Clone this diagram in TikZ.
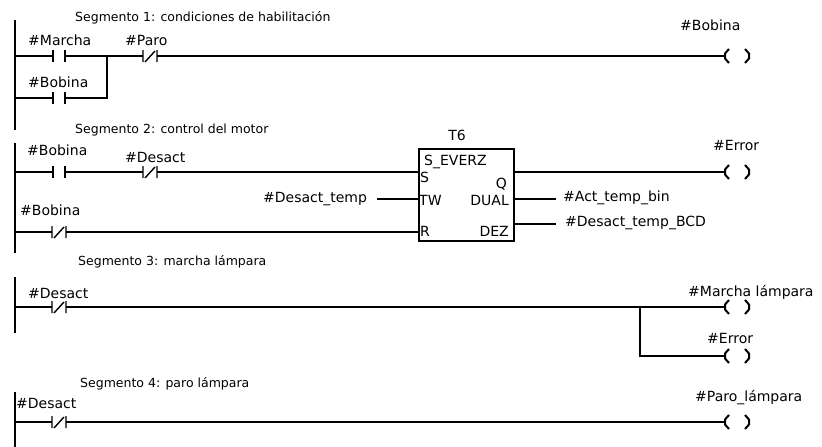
\documentclass[tikz,border=0pt]{standalone}
\usepackage{fontspec}
\setmainfont{DejaVu Sans}
\tikzset{
  wire/.style={line width=1.4pt},
  rail/.style={line width=1.6pt},
  lbl/.style={anchor=west,inner sep=0pt,font=\fontsize{14}{16}\selectfont},
  ttl/.style={anchor=west,inner sep=0pt,font=\fontsize{12.5}{15}\selectfont},
  pin/.style={inner sep=0pt,font=\fontsize{14}{16}\selectfont},
  fblock/.style={draw,line width=2.4pt,anchor=north west,inner sep=0pt,minimum width=95pt,minimum height=92pt},
  nocontact/.pic={\draw[wire] (-6,-6) -- (-6,6) (6,-6) -- (6,6);
    \coordinate (-l) at (-6,0); \coordinate (-r) at (6,0);},
  nccontact/.pic={\draw[wire] (-7,-6) -- (-7,6) (7,-6) -- (7,6) (-5,6) -- (5,-5);
    \coordinate (-l) at (-7,0); \coordinate (-r) at (7,0);},
  coil/.pic={\draw[line width=2pt,line join=miter] (-8,-7) -- (-12,-2.5) -- (-12,2.5) -- (-8,7)
      (8,-7) -- (12,-2.5) -- (12,2.5) -- (8,7);
    \coordinate (-l) at (-12,0);}
}
\begin{document}
\begin{tikzpicture}[x=1pt,y=-1pt]
\useasboundingbox (0,0) rectangle (822,447);

% ---------------- Segment 1 ----------------
\coordinate (r1t) at (15,20);
\coordinate (r1b) at (15,130);
\draw[rail] (r1t) -- (r1b);
\node[ttl] (t1) at (75,18) {Segmento 1: condiciones de habilitación};
\pic (c1) at (59,56) {nocontact};
\pic (c2) at (59,98) {nocontact};
\pic (c3) at (150,56) {nccontact};
\pic (k1) at (737,56) {coil};
\coordinate (j1) at (107,56);
\coordinate (j1b) at (107,98);
\draw[wire] (r1t |- c1-l) -- (c1-l);
\draw[wire] (c1-r) -- (j1) -- (c3-l);
\draw[wire] (r1t |- c2-l) -- (c2-l);
\draw[wire] (c2-r) -- (j1b) -- (j1);
\draw[wire] (c3-r) -- (k1-l);
\node[lbl] (l1) at (28,40) {\#Marcha};
\node[lbl] (l2) at (125,40) {\#Paro};
\node[lbl] (l3) at (28,82) {\#Bobina};
\node[lbl] (l4) at (680,25) {\#Bobina};

% ---------------- Segment 2 ----------------
\coordinate (r2t) at (15,143);
\coordinate (r2b) at (15,253);
\draw[rail] (r2t) -- (r2b);
\node[ttl] (t2) at (75,130) {Segmento 2: control del motor};
\node[fblock] (T6) at (418,148) {};
\node[pin,anchor=south] (t6n) at (457,141) {T6};
\pic (c4) at (59,172) {nocontact};
\pic (c5) at (150,172) {nccontact};
\pic (c6) at (59,232) {nccontact};
\pic (k2) at (737,172) {coil};
\draw[wire] (r2t |- c4-l) -- (c4-l);
\draw[wire] (c4-r) -- (c5-l);
\draw[wire] (c5-r) -- (c5-r -| T6.west);
\draw[wire] (r2t |- c6-l) -- (c6-l);
\draw[wire] (c6-r) -- (c6-r -| T6.west);
\node[lbl] (l5) at (27,150) {\#Bobina};
\node[lbl] (l6) at (125,157) {\#Desact};
\node[lbl] (l7) at (20,210) {\#Bobina};
\node[lbl] (l8) at (263,199) {\#Desact\_temp};
\coordinate (tw) at (377,199);
\draw[wire] (tw) -- (tw -| T6.west);
\node[pin,anchor=west] at (424,162) {S\_EVERZ};
\node[pin,anchor=west] at (420,177) {S};
\node[pin,anchor=east] at (507,184) {Q};
\node[pin,anchor=west] at (419,200) {TW};
\node[pin,anchor=east] at (509,200) {DUAL};
\node[pin,anchor=west] at (420,231) {R};
\node[pin,anchor=east] at (509,231) {DEZ};
\draw[wire] (T6.east |- k2-l) -- (k2-l);
\coordinate (o1) at (556,199);
\coordinate (o2) at (556,224);
\draw[wire] (T6.east |- o1) -- (o1);
\draw[wire] (T6.east |- o2) -- (o2);
\node[lbl] (l9) at (713,145) {\#Error};
\node[lbl] (l10) at (563,198) {\#Act\_temp\_bin};
\node[lbl] (l11) at (565,223) {\#Desact\_temp\_BCD};

% ---------------- Segment 3 ----------------
\coordinate (r3t) at (15,277);
\coordinate (r3b) at (15,333);
\draw[rail] (r3t) -- (r3b);
\node[ttl] (t3) at (78,262) {Segmento 3: marcha lámpara};
\pic (c7) at (59,307) {nccontact};
\pic (k3) at (737,307) {coil};
\pic (k4) at (737,356) {coil};
\coordinate (j3) at (640,307);
\coordinate (j3b) at (640,356);
\draw[wire] (r3t |- c7-l) -- (c7-l);
\draw[wire] (c7-r) -- (k3-l);
\draw[wire] (j3) -- (j3b) -- (k4-l);
\node[lbl] (l12) at (28,293) {\#Desact};
\node[lbl] (l13) at (688,292) {\#Marcha lámpara};
\node[lbl] (l14) at (707,338) {\#Error};

% ---------------- Segment 4 ----------------
\coordinate (r4t) at (15,392);
\coordinate (r4b) at (15,447);
\draw[rail] (r4t) -- (r4b);
\node[ttl] (t4) at (80,384) {Segmento 4: paro lámpara};
\pic (c8) at (59,422) {nccontact};
\pic (k5) at (737,422) {coil};
\draw[wire] (r4t |- c8-l) -- (c8-l);
\draw[wire] (c8-r) -- (k5-l);
\node[lbl] (l15) at (16,403) {\#Desact};
\node[lbl] (l16) at (695,398) {\#Paro\_lámpara};
\end{tikzpicture}
\end{document}
